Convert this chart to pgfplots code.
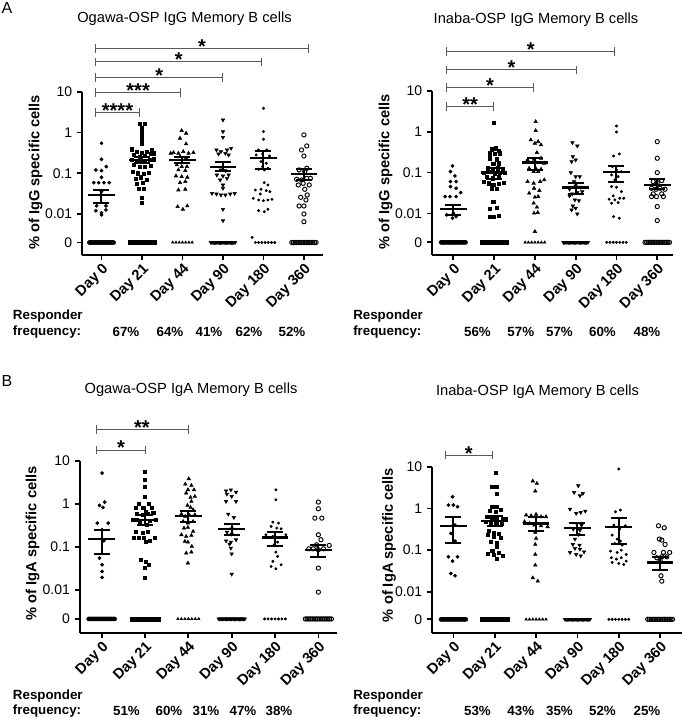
\documentclass[border=0pt]{standalone}
\usepackage{pgfplots}
\pgfplotsset{compat=1.18}
\usepackage{pgfplotstable}
\usepackage{fontspec}
\setmainfont{Liberation Sans}

\newcommand{\tnode}[4][]{\node[#1] at ({(#2)*0.75pt},{(718-(#3))*0.75pt}) {#4};}

% zero rows: horizontal offsets (d) of the points whose value (v) is 0
\pgfplotstableread{
d v
-0.30 0
-0.27 0
-0.24 0
-0.21 0
-0.18 0
-0.15 0
-0.12 0
-0.09 0
-0.06 0
-0.03 0
0.00 0
0.03 0
0.06 0
0.09 0
0.12 0
0.15 0
0.18 0
0.21 0
0.24 0
0.27 0
0.30 0
}\zsolid
\pgfplotstableread{
d v
-0.24 0
-0.16 0
-0.08 0
0.00 0
0.08 0
0.16 0
0.24 0
}\zdots
\pgfplotstableread{
d v
-0.30 0
-0.26 0
-0.22 0
-0.18 0
-0.14 0
-0.10 0
-0.06 0
-0.02 0
0.02 0
0.06 0
0.10 0
0.14 0
0.18 0
0.22 0
0.26 0
0.30 0
}\zopen

\pgfplotsset{
 dA/.style={only marks, mark=*, mark size=1.2pt, black},
 dB/.style={only marks, mark=square*, mark size=1.15pt, black},
 dC/.style={only marks, mark=triangle*, mark size=1.5pt, black},
 dD/.style={only marks, mark=triangle*, mark size=1.5pt, mark options={rotate=180}, black},
 dE/.style={only marks, mark=*, mark size=0.9pt, black},
 dF/.style={only marks, mark=o, mark size=1.6pt, mark options={line width=0.7pt}, black},
 zs/.style={mark size=1.5pt},
 msem/.style={only marks, mark=-, mark size=10pt, mark options={line width=1.8pt}, black,
   error bars/.cd, y dir=both, y explicit, error bar style={line width=1.5pt},
   error mark options={rotate=90, line width=1.5pt, mark size=6pt}},
 panel/.style={
   scale only axis, anchor=south west,
   axis x line*=bottom, axis y line*=left,
   axis line style={line width=1.5pt, -},
   tick style={line width=1.3pt, black},
   major tick length=4pt,
   tick align=outside,
   xtick={0,1,2,3,4,5},
   xticklabels={Day 0,Day 21,Day 44,Day 90,Day 180,Day 360},
   xticklabel style={rotate=45, anchor=north east, font=\fontsize{11}{12}\selectfont\bfseries, inner sep=1pt},
   yticklabel style={font=\fontsize{10.5}{12}\selectfont},
   yticklabels={0,0.01,0.1,1,10},
   clip=false,
 },
}
\tikzset{brline/.style={black!65, line width=0.6pt}}
\newcommand{\brk}[4]{%
 \draw[brline] (axis cs:#1,#3) -- (axis cs:#2,#3);
 \draw[brline] ([yshift=-3.2pt]axis cs:#1,#3) -- ([yshift=3.2pt]axis cs:#1,#3);
 \draw[brline] ([yshift=-3.2pt]axis cs:#2,#3) -- ([yshift=3.2pt]axis cs:#2,#3);
 \node[anchor=base, inner sep=0pt, yshift=-3.8pt, font=\fontsize{15}{15}\selectfont\bfseries] at (axis cs:{(#1+#2)/2},#3) {#4};
}

\begin{document}
\begin{tikzpicture}
\useasboundingbox (0,0) rectangle (512.25pt,538.5pt);
\coordinate (AL) at ({82.3*0.75pt},{(718-254.7)*0.75pt});
\coordinate (AR) at ({432.3*0.75pt},{(718-255)*0.75pt});
\coordinate (BL) at ({80*0.75pt},{(718-632.7)*0.75pt});
\coordinate (BR) at ({432.3*0.75pt},{(718-632.7)*0.75pt});

% ---------------- Ogawa IgG ----------------
\begin{axis}[panel, at={(AL)}, width=180.5pt, height=122.1pt,
  xmin=-0.474, xmax=5.47, ymin=-3.0, ymax=1, ytick={-2.70,-2,-1,0,1}]
\addplot[dA, zs] table[x expr=\thisrow{d}, y expr=\thisrow{v}-2.70] {\zsolid};
\addplot[dB, zs] table[x expr=\thisrow{d}+1, y expr=\thisrow{v}-2.70] {\zsolid};
\addplot[dC, mark size=1.1pt] table[x expr=\thisrow{d}+2, y expr=\thisrow{v}-2.70] {\zdots};
\addplot[dD, zs] table[x expr=\thisrow{d}+3, y expr=\thisrow{v}-2.70] {\zsolid};
\addplot[dE] table[x expr=\thisrow{d}+4.04, y expr=\thisrow{v}-2.70] {\zdots};
\addplot[dF] table[x expr=\thisrow{d}+5, y expr=\thisrow{v}-2.70] {\zopen};
\addplot[dA] coordinates {(0,-0.262)(0,-0.656)(-0.14,-0.918)(0,-0.934)(0.12,-0.836)(0,-1.098)(-0.19,-1.23)(-0.07,-1.23)(0.06,-1.23)(0.19,-1.23)(0,-1.45)(-0.12,-1.80)(0.11,-1.80)(-0.14,-1.92)(0,-1.97)(0.11,-1.90)(0,-2.02)};
\addplot[dB] coordinates {(0.94,0.213)(1.08,0.213)(1,0.107)(1,-0.016)(1,-0.139)(1,-0.262)(0.75,-0.41)(0.88,-0.467)(1,-0.49)(1.12,-0.467)(1.25,-0.426)(0.79,-0.549)(0.94,-0.59)(1.08,-0.574)(1.21,-0.525)(1.3,-0.508)(0.75,-0.672)(0.86,-0.689)(0.96,-0.721)(1.08,-0.721)(1.19,-0.672)(1.29,-0.656)(0.79,-0.795)(0.94,-0.836)(1.08,-0.836)(1.22,-0.82)(0.78,-0.959)(0.89,-1.0)(1.04,-1.016)(1.16,-0.984)(0.84,-1.123)(0.96,-1.098)(1.11,-1.148)(0.88,-1.246)(1.02,-1.23)(0.92,-1.369)(1.04,-1.369)(1,-1.59)(1,-1.721)};
\addplot[dC] coordinates {(1.98,0.049)(2.09,-0.016)(1.94,-0.139)(2.09,-0.279)(1.71,-0.508)(1.78,-0.492)(1.9,-0.508)(2.02,-0.467)(2.15,-0.508)(2.27,-0.492)(1.94,-0.59)(2.09,-0.631)(1.86,-0.795)(1.98,-0.836)(2.11,-0.836)(1.9,-0.918)(2.07,-0.934)(1.84,-1.066)(1.98,-1.082)(2.12,-1.098)(1.94,-1.23)(2.07,-1.205)(1.9,-1.41)(2.07,-1.393)(1.88,-1.82)(2.01,-1.885)(2.12,-1.803)};
\addplot[dD] coordinates {(3,0.311)(3,0.025)(3,-0.115)(2.84,-0.426)(2.95,-0.467)(3.1,-0.426)(3.2,-0.385)(2.89,-0.525)(3.06,-0.508)(3.14,-0.549)(2.95,-0.918)(3.06,-0.934)(2.85,-1.041)(3,-1.066)(3.14,-1.041)(2.93,-1.164)(3.1,-1.123)(3,-1.287)(3,-1.369)(2.73,-1.492)(2.84,-1.508)(2.95,-1.533)(3.06,-1.533)(3.18,-1.508)(3.29,-1.492)(3,-1.885)(3,-2.164)};
\addplot[dE] coordinates {(4,0.598)(4,0.025)(4,-0.164)(3.88,-0.426)(4.08,-0.426)(3.82,-0.549)(3.98,-0.525)(4.15,-0.574)(3.94,-0.713)(4.07,-0.754)(3.98,-0.836)(4.11,-0.877)(3.88,-0.902)(4.02,-0.918)(4.02,-1.23)(4.11,-1.287)(3.8,-1.41)(3.94,-1.393)(4.07,-1.426)(4.16,-1.451)(3.92,-1.508)(3.75,-1.615)(3.88,-1.656)(4,-1.672)(4.11,-1.656)(4.21,-1.639)(3.88,-1.918)(4.02,-1.943)(4.11,-1.885)(3.72,-2.574)};
\addplot[dF] coordinates {(5,-0.057)(5.07,-0.328)(4.94,-0.426)(5,-0.574)(5.07,-0.877)(4.88,-0.918)(5.02,-0.959)(4.82,-1.148)(4.94,-1.164)(5.07,-1.123)(5.16,-1.123)(4.86,-1.287)(4.98,-1.246)(5.13,-1.287)(5.02,-1.393)(5.08,-1.533)(4.92,-1.59)(5.05,-1.656)(4.88,-1.803)(5,-1.803)(5,-2.0)(5,-2.189)};
\addplot[msem] coordinates {
 (0,-1.53) += (0,0.12) -= (0,0.19)
 (1,-0.67) += (0,0.06) -= (0,0.08)
 (2,-0.67) += (0,0.06) -= (0,0.08)
 (3,-0.84) += (0,0.12) -= (0,0.10)
 (4,-0.623) += (0,0.18) -= (0,0.262)
 (5,-1.016) += (0,0.114) -= (0,0.148)};
\brk{-0.14}{5.1}{2.07}{*}
\brk{-0.14}{3.96}{1.74}{*}
\brk{-0.14}{2.99}{1.35}{*}
\brk{-0.14}{1.95}{0.98}{***}
\brk{-0.14}{0.93}{0.49}{****}
\end{axis}

% ---------------- Inaba IgG ----------------
\begin{axis}[panel, at={(AR)}, width=180.5pt, height=123pt,
  xmin=-0.515, xmax=5.385, ymin=-3.02, ymax=1, ytick={-2.71,-2,-1,0,1}]
\addplot[dA, zs] table[x expr=\thisrow{d}, y expr=\thisrow{v}-2.71] {\zsolid};
\addplot[dB, zs] table[x expr=\thisrow{d}+1, y expr=\thisrow{v}-2.71] {\zsolid};
\addplot[dC, mark size=1.1pt] table[x expr=\thisrow{d}+2, y expr=\thisrow{v}-2.71] {\zdots};
\addplot[dD, zs] table[x expr=\thisrow{d}+3, y expr=\thisrow{v}-2.71] {\zsolid};
\addplot[dE] table[x expr=\thisrow{d}+4, y expr=\thisrow{v}-2.71] {\zdots};
\addplot[dF] table[x expr=\thisrow{d}+5, y expr=\thisrow{v}-2.71] {\zopen};
\addplot[dA] coordinates {(-0.02,-0.837)(-0.07,-0.976)(0.04,-1.082)(-0.07,-1.22)(0.07,-1.22)(-0.07,-1.343)(0.07,-1.384)(0.18,-1.49)(-0.2,-1.588)(-0.08,-1.588)(0.07,-1.588)(0,-1.996)(-0.16,-2.037)(0.07,-2.078)(-0.02,-2.118)};
\addplot[dB] coordinates {(1,0.224)(1.05,-0.404)(0.94,-0.429)(1.11,-0.461)(0.89,-0.527)(1.02,-0.543)(1.15,-0.527)(0.9,-0.649)(1.07,-0.673)(0.98,-0.788)(1.11,-0.771)(0.84,-0.894)(0.97,-0.918)(1.08,-0.894)(1.21,-0.918)(0.74,-1.0)(0.89,-0.976)(1.02,-1.016)(1.15,-1.0)(1.27,-1.0)(0.82,-1.098)(0.97,-1.139)(1.11,-1.114)(0.74,-1.22)(0.86,-1.261)(0.98,-1.302)(1.11,-1.278)(1.23,-1.245)(0.94,-1.384)(1.07,-1.408)(0.98,-1.71)(0.89,-1.898)(1.07,-1.873)(0.89,-2.078)(1,-2.094)(1.11,-2.061)};
\addplot[dC] coordinates {(2.02,0.249)(2.02,0.029)(1.9,-0.2)(2,-0.282)(2.08,-0.241)(2.15,-0.322)(2.05,-0.51)(1.82,-0.69)(1.98,-0.673)(2.15,-0.649)(2.23,-0.771)(1.86,-0.894)(2.02,-0.894)(2.15,-0.918)(1.97,-0.976)(2.08,-0.976)(1.82,-1.22)(1.97,-1.261)(2.13,-1.22)(2.23,-1.18)(1.98,-1.384)(2.11,-1.441)(1.86,-1.506)(2,-1.604)(2.08,-1.588)(1.97,-1.751)(2.05,-1.849)(1.98,-1.996)(2.07,-1.98)(2,-2.445)};
\addplot[dD] coordinates {(2.92,-0.265)(3.04,-0.347)(2.93,-0.608)(3,-0.69)(2.9,-0.731)(2.88,-1.0)(3,-1.098)(3.1,-1.098)(2.96,-1.22)(2.85,-1.408)(3,-1.327)(3.12,-1.359)(2.92,-1.522)(3.04,-1.49)(3.16,-1.465)(2.85,-1.571)(2.98,-1.669)(3.08,-1.686)(2.93,-1.816)(3,-1.873)(2.9,-1.914)(3.04,-2.012)};
\addplot[dE] coordinates {(4,0.143)(4,-0.004)(3.93,-0.592)(4.07,-0.543)(3.9,-0.853)(4,-0.935)(4.12,-0.976)(3.88,-1.057)(4.04,-1.098)(3.96,-1.18)(3.88,-1.343)(4,-1.359)(4.12,-1.465)(3.92,-1.571)(3.82,-1.653)(3.96,-1.669)(4.08,-1.629)(4.18,-1.629)(3.88,-1.751)(4.04,-1.735)(3.93,-2.078)(4.07,-2.118)};
\addplot[dF] coordinates {(5,-0.241)(5,-0.649)(5,-1.0)(4.9,-1.22)(5,-1.245)(5.11,-1.196)(4.86,-1.384)(4.97,-1.408)(5.07,-1.384)(5.19,-1.408)(4.9,-1.522)(4.98,-1.588)(5.11,-1.522)(4.86,-1.588)(5.15,-1.588)(5,-1.833)(5,-2.176)};
\addplot[msem] coordinates {
 (0,-1.89) += (0,0.098) -= (0,0.147)
 (1,-1.0) += (0,0.106) -= (0,0.163)
 (2,-0.755) += (0,0.106) -= (0,0.18)
 (3,-1.367) += (0,0.122) -= (0,0.155)
 (4,-0.984) += (0,0.155) -= (0,0.236)
 (5,-1.31) += (0,0.163) -= (0,0.098)};
\brk{-0.16}{3.96}{1.97}{*}
\brk{-0.16}{3.01}{1.52}{*}
\brk{-0.16}{1.96}{1.09}{*}
\brk{-0.16}{0.98}{0.62}{**}
\end{axis}

% ---------------- Ogawa IgA ----------------
\begin{axis}[panel, at={(BL)}, width=192.75pt, height=128.7pt,
  xmin=-0.50, xmax=5.43, ymin=-2.99, ymax=1, ytick={-2.67,-2,-1,0,1}]
\addplot[dA, zs] table[x expr=\thisrow{d}, y expr=\thisrow{v}-2.67] {\zsolid};
\addplot[dB, zs] table[x expr=\thisrow{d}+1, y expr=\thisrow{v}-2.67] {\zsolid};
\addplot[dC, mark size=1.1pt] table[x expr=\thisrow{d}+2, y expr=\thisrow{v}-2.67] {\zdots};
\addplot[dD, zs] table[x expr=\thisrow{d}+3, y expr=\thisrow{v}-2.67] {\zsolid};
\addplot[dE] table[x expr=\thisrow{d}+4, y expr=\thisrow{v}-2.67] {\zdots};
\addplot[dF] table[x expr=\thisrow{d}+5, y expr=\thisrow{v}-2.67] {\zopen};
\addplot[dA] coordinates {(0.01,0.721)(0.07,0.047)(-0.05,-0.031)(0.03,-0.078)(-0.1,-0.442)(0.15,-0.442)(0.01,-0.597)(0.05,-0.853)(-0.05,-1.256)(0.01,-1.411)(0.01,-1.566)(0.01,-1.705)};
\addplot[dB] coordinates {(1,0.76)(1,0.566)(1,0.411)(1,0.178)(0.86,0.0)(1.09,0.0)(0.78,-0.078)(0.96,-0.078)(1.15,-0.078)(1.02,-0.171)(0.82,-0.233)(0.94,-0.248)(1.07,-0.233)(1.19,-0.209)(0.71,-0.364)(0.82,-0.364)(1.12,-0.388)(1.25,-0.364)(0.88,-0.442)(1.05,-0.481)(0.78,-0.636)(0.94,-0.674)(1.07,-0.651)(0.75,-0.791)(0.86,-0.791)(0.98,-0.791)(1.22,-0.775)(1.02,-0.884)(1.12,-0.853)(0.9,-1.295)(1.02,-1.349)(1.09,-1.411)(1,-1.473)(1,-1.705)};
\addplot[dC] coordinates {(2.01,0.589)(1.93,0.465)(2.07,0.434)(1.99,0.333)(2.13,0.333)(1.95,0.256)(2.05,0.155)(2.15,0.178)(2.07,0.062)(1.98,-0.031)(2.05,-0.078)(2.11,-0.132)(1.84,-0.233)(1.93,-0.287)(2.03,-0.264)(2.15,-0.248)(1.88,-0.403)(1.99,-0.442)(2.11,-0.403)(1.9,-0.558)(1.99,-0.543)(2.11,-0.636)(1.84,-0.713)(1.95,-0.752)(2.07,-0.729)(1.92,-0.868)(1.99,-0.884)(2.08,-0.984)(1.95,-1.14)(2.07,-1.116)(1.99,-1.372)};
\addplot[dD] coordinates {(2.87,0.31)(2.98,0.333)(3.1,0.279)(2.89,0.233)(3,0.178)(3.1,0.062)(2.87,0.062)(2.92,-0.233)(3.05,-0.31)(3,-0.574)(2.89,-0.651)(3,-0.698)(3.1,-0.829)(2.87,-0.853)(2.98,-0.884)(2.95,-0.93)(2.98,-1.023)(3,-1.155)(3,-1.628)};
\addplot[dE] coordinates {(4.02,0.333)(4.02,0.101)(3.95,-0.419)(4.08,-0.442)(3.91,-0.519)(4.04,-0.558)(4.14,-0.574)(3.79,-0.713)(3.95,-0.752)(4.25,-0.713)(4.06,-0.884)(3.98,-0.946)(4.02,-1.116)(4.06,-1.217)(3.95,-1.333)(4.14,-1.411)(3.91,-1.45)(4.02,-1.504)};
\addplot[dF] coordinates {(5,0.047)(5,-0.109)(4.92,-0.326)(5.08,-0.326)(5,-0.713)(5.06,-0.829)(4.78,-1.039)(4.88,-1.039)(5,-1.062)(5.12,-1.039)(5.25,-0.961)(4.96,-0.946)(5,-1.488)(5,-2.047)};
\addplot[msem] coordinates {
 (0,-0.806) += (0,0.209) -= (0,0.349)
 (1,-0.364) += (0,0.1) -= (0,0.132)
 (2,-0.271) += (0,0.1) -= (0,0.148)
 (3,-0.574) += (0,0.109) -= (0,0.139)
 (4,-0.775) += (0,0.124) -= (0,0.209)
 (5,-1.062) += (0,0.116) -= (0,0.178)};
\brk{-0.13}{1.99}{1.73}{**}
\brk{-0.13}{1.02}{1.26}{*}
\end{axis}

% ---------------- Inaba IgA ----------------
\begin{axis}[panel, at={(BR)}, width=187pt, height=124.5pt,
  xmin=-0.51, xmax=5.52, ymin=-2.98, ymax=1, ytick={-2.66,-2,-1,0,1}]
\addplot[dA, zs] table[x expr=\thisrow{d}, y expr=\thisrow{v}-2.66] {\zsolid};
\addplot[dB, zs] table[x expr=\thisrow{d}+1, y expr=\thisrow{v}-2.66] {\zsolid};
\addplot[dC, mark size=1.1pt] table[x expr=\thisrow{d}+2, y expr=\thisrow{v}-2.66] {\zdots};
\addplot[dD, zs] table[x expr=\thisrow{d}+3, y expr=\thisrow{v}-2.66] {\zsolid};
\addplot[dE] table[x expr=\thisrow{d}+4, y expr=\thisrow{v}-2.66] {\zdots};
\addplot[dF] table[x expr=\thisrow{d}+5, y expr=\thisrow{v}-2.66] {\zopen};
\addplot[dA] coordinates {(-0.02,0.28)(-0.12,0.08)(0,0.08)(0.1,0.04)(0.04,-0.4)(-0.06,-0.6)(0.04,-0.784)(-0.12,-1.16)(0.1,-1.16)(-0.02,-1.264)(-0.06,-1.56)(0.04,-1.616)};
\addplot[dB] coordinates {(1.02,0.864)(0.94,0.52)(1.06,0.52)(1.06,0.36)(0.94,0.04)(1.06,0.04)(0.89,-0.064)(1.02,-0.08)(1.15,-0.04)(0.82,-0.2)(0.94,-0.24)(1.06,-0.224)(1.19,-0.24)(1.27,-0.256)(0.78,-0.32)(0.9,-0.36)(1.05,-0.36)(1.16,-0.36)(0.86,-0.544)(0.98,-0.576)(1.1,-0.6)(0.84,-0.64)(0.97,-0.68)(1.15,-0.704)(0.9,-0.8)(1.05,-0.816)(1.06,-0.92)(0.94,-1.024)(0.84,-1.08)(1.1,-1.056)(0.97,-1.12)(1.19,-1.136)(1.06,-1.216)};
\addplot[dC] coordinates {(1.92,0.656)(2.02,0.6)(1.98,0.416)(1.76,-0.16)(1.88,-0.176)(2,-0.144)(2.12,-0.2)(2.24,-0.2)(1.72,-0.32)(1.84,-0.36)(1.96,-0.4)(2.12,-0.416)(2.28,-0.44)(1.98,-0.576)(2,-0.72)(1.98,-0.864)(1.98,-1.104)(1.98,-1.36)(1.92,-1.664)(2.04,-1.744)};
\addplot[dD] coordinates {(3.02,0.544)(2.92,0.384)(3.06,0.304)(3.13,0.36)(2.82,-0.016)(2.97,-0.12)(3.08,-0.096)(3.19,-0.064)(2.98,-0.36)(3.1,-0.4)(2.9,-0.496)(3.06,-0.52)(3.02,-0.624)(2.94,-0.736)(2.89,-0.864)(3.05,-0.88)(2.94,-0.96)(3.06,-0.976)(2.82,-1.056)(2.97,-1.104)(3.08,-1.136)(3.16,-1.04)};
\addplot[dE] coordinates {(4,0.944)(3.92,-0.08)(4.04,-0.04)(3.88,-0.4)(4.02,-0.496)(4.16,-0.416)(3.84,-0.64)(3.96,-0.736)(4.04,-0.784)(3.9,-0.84)(4.08,-0.88)(3.8,-1.024)(3.96,-1.056)(4.06,-1.0)(4.18,-1.104)(3.82,-1.184)(3.94,-1.216)(4.06,-1.184)(4.18,-1.264)(3.84,-1.296)(4,-1.32)(4.12,-1.344)};
\addplot[dF] coordinates {(4.96,-0.416)(5.1,-0.464)(4.98,-0.736)(5.04,-0.76)(5.12,-0.864)(4.85,-1.056)(5.08,-1.056)(5.23,-1.056)(4.92,-1.184)(5.04,-1.16)(5.16,-1.16)(5,-1.24)(5.02,-1.616)(5.04,-1.744)};
\addplot[msem] coordinates {
 (0,-0.416) += (0,0.216) -= (0,0.424)
 (1,-0.304) += (0,0.128) -= (0,0.112)
 (2,-0.36) += (0,0.16) -= (0,0.184)
 (3,-0.464) += (0,0.104) -= (0,0.176)
 (4,-0.44) += (0,0.2) -= (0,0.424)
 (5,-1.296) += (0,0.136) -= (0,0.184)};
\brk{-0.2}{0.94}{1.28}{*}
\end{axis}

% ---------------- text ----------------
\begin{scope}[every node/.style={inner sep=0pt}]
\tnode[font=\fontsize{12}{14}\selectfont]{7}{8}{A}
\tnode[font=\fontsize{12}{14}\selectfont]{7}{381}{B}
\tnode[font=\fontsize{11}{13}\selectfont]{184.5}{19}{Ogawa-OSP IgG Memory B cells}
\tnode[font=\fontsize{11}{13}\selectfont]{536}{20}{Inaba-OSP IgG Memory B cells}
\tnode[font=\fontsize{11}{13}\selectfont]{191}{390}{Ogawa-OSP IgA Memory B cells}
\tnode[font=\fontsize{11}{13}\selectfont]{537.5}{391.7}{Inaba-OSP IgA Memory B cells}
\tnode[rotate=90, font=\fontsize{11}{13}\selectfont\bfseries]{35.5}{172.5}{\% of IgG specific cells}
\tnode[rotate=90, font=\fontsize{11}{13}\selectfont\bfseries]{385.5}{171.7}{\% of IgG specific cells}
\tnode[rotate=90, font=\fontsize{11}{13}\selectfont\bfseries]{32.5}{543.3}{\% of IgA specific cells}
\tnode[rotate=90, font=\fontsize{11}{13}\selectfont\bfseries]{389}{545}{\% of IgA specific cells}
\end{scope}
\begin{scope}[every node/.style={inner sep=0pt, font=\fontsize{10}{12}\selectfont\bfseries}]
\tnode[anchor=west]{12.7}{316.5}{Responder}
\tnode[anchor=west]{12.7}{332}{frequency:}
\tnode[anchor=west]{353}{316.5}{Responder}
\tnode[anchor=west]{353}{332}{frequency:}
\tnode[anchor=west]{12.7}{695.7}{Responder}
\tnode[anchor=west]{12.7}{711}{frequency:}
\tnode[anchor=west]{353}{695.7}{Responder}
\tnode[anchor=west]{353}{711}{frequency:}
\tnode{126}{332}{67\%}
\tnode{170}{332}{64\%}
\tnode{209}{332}{41\%}
\tnode{249}{332}{62\%}
\tnode{292}{332}{52\%}
\tnode{477.5}{332}{56\%}
\tnode{520.8}{332}{57\%}
\tnode{559.5}{332}{57\%}
\tnode{602.5}{332}{60\%}
\tnode{647}{332}{48\%}
\tnode{126.5}{711}{51\%}
\tnode{169}{711}{60\%}
\tnode{206}{711}{31\%}
\tnode{243}{711}{47\%}
\tnode{279}{711}{38\%}
\tnode{477.5}{711}{53\%}
\tnode{520.8}{711}{43\%}
\tnode{559.5}{711}{35\%}
\tnode{602.5}{711}{52\%}
\tnode{647}{711}{25\%}
\end{scope}
\end{tikzpicture}
\end{document}
